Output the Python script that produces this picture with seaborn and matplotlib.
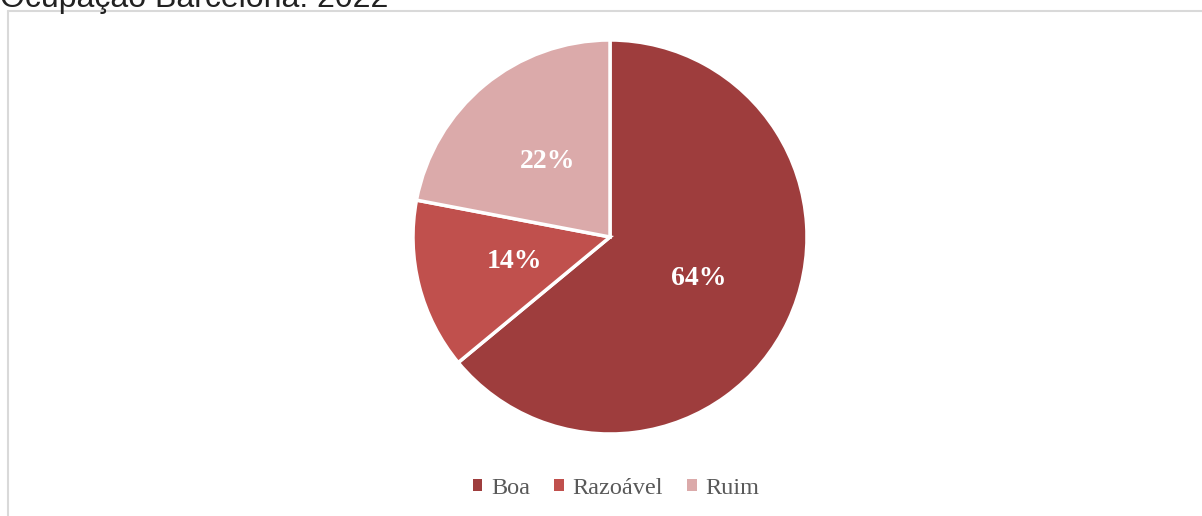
import matplotlib
matplotlib.use('Agg')
import matplotlib.pyplot as plt
from matplotlib.patches import Patch
from matplotlib.lines import Line2D
import seaborn as sns

# dados
categorias = ['Boa', 'Razoável', 'Ruim']
valores = [64, 14, 22]
cores = ['#9E3D3D', '#C0504D', '#DBAAAA']
titulo = 'Ocupação Barcelona: 2022'

sns.set_theme(style='white')
plt.rcParams['font.family'] = ['Liberation Serif', 'DejaVu Serif']

W, H = 1202, 516
fig = plt.figure(figsize=(W / 100, H / 100), dpi=100)
ax = fig.add_axes([0, 0, 1, 1])

# borda da área do gráfico
ax.add_line(Line2D([7.5, 7.5], [-5, H - 10.5], color='#D9D9D9', lw=1.5))
ax.add_line(Line2D([7.5, W + 5], [H - 10.5, H - 10.5], color='#D9D9D9', lw=1.5))

wedges, texts, autotexts = ax.pie(
    valores, colors=cores, startangle=90, counterclock=False,
    center=(610, H - 237), radius=197, frame=True,
    autopct='%1.0f%%', pctdistance=0.5,
    wedgeprops=dict(edgecolor='white', linewidth=2.5),
    textprops=dict(color='white', fontsize=20, fontweight='bold'))
ax.set_xlim(0, W)
ax.set_ylim(0, H)
ax.set_aspect('auto')
ax.axis('off')

handles = [Patch(facecolor=c, edgecolor='none', label=l) for c, l in zip(cores, categorias)]
fig.legend(handles=handles, loc='center', bbox_to_anchor=(616 / W, 1 - 488 / H),
           ncol=3, frameon=False, fontsize=17.5, handlelength=0.4, handleheight=0.4,
           handletextpad=0.35, columnspacing=1.0, labelcolor='#595959')

fig.text(0, 1 - 7 / H, titulo, fontsize=23, color='#222222', ha='left', va='baseline',
         family=['Liberation Sans', 'DejaVu Sans'])

fig.savefig('out.png', dpi=100)
